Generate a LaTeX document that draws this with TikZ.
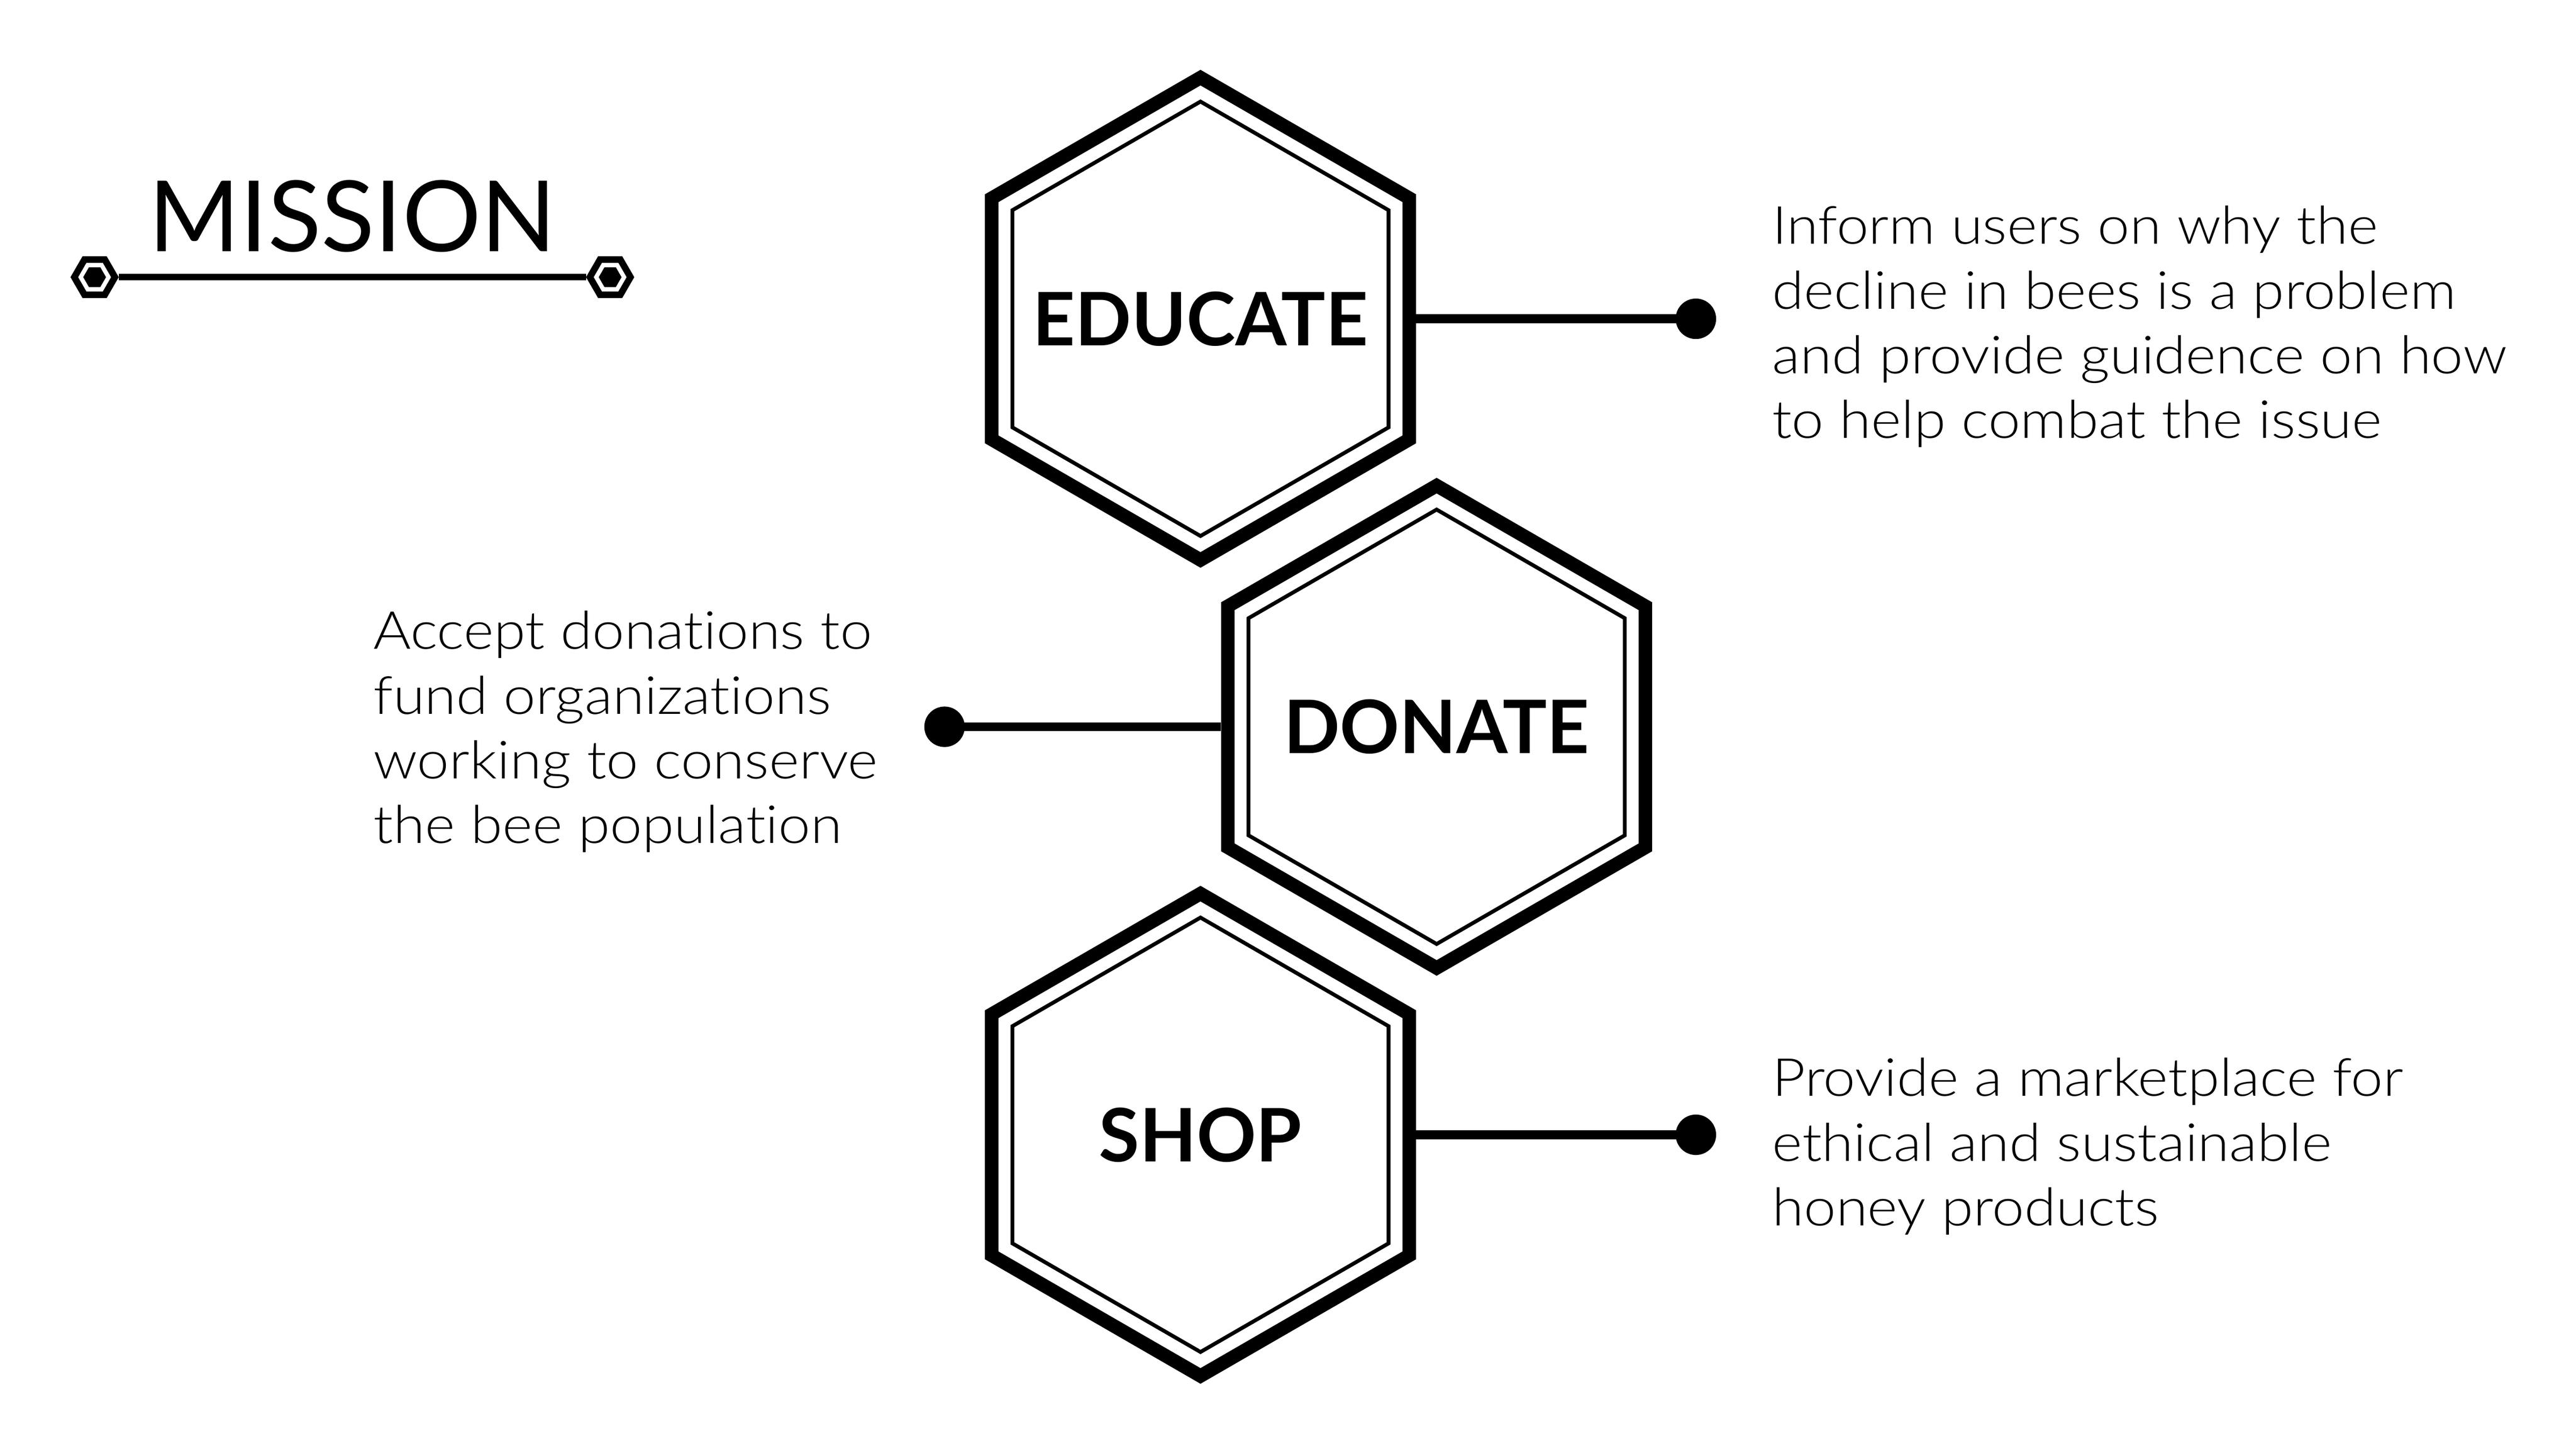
\documentclass[tikz,border=0pt]{standalone}
\usepackage{fontspec}
\usetikzlibrary{shapes.geometric}
\newfontfamily\bodyfont{Lato Light}[FakeStretch=1.097, Ligatures=NoCommon]
\newfontfamily\latofont{Lato}
\newcommand\tibreak{t\kern0pt i}
\tikzset{
  hexout/.style={draw, line width=8.2pt, regular polygon, regular polygon sides=6,
    shape border rotate=90, minimum size=292pt, inner sep=0pt},
  hexin/.style={draw, line width=2.3pt, regular polygon, regular polygon sides=6,
    shape border rotate=90, minimum size=263pt, inner sep=0pt},
  hexlabel/.style={font=\latofont\bfseries\fontsize{44.7}{50}\selectfont, inner sep=0pt},
  bodytext/.style={font=\bodyfont\fontsize{31.8}{39.2}\selectfont, inner sep=0pt, anchor=base west},
  dotnode/.style={circle, fill=black, inner sep=0pt, minimum size=24.5pt},
  conn/.style={line width=5.5pt},
  decout/.style={draw, line width=4pt, regular polygon, regular polygon sides=6,
    minimum size=24.6pt, inner sep=0pt},
  decin/.style={fill=black, regular polygon, regular polygon sides=6,
    minimum size=13.8pt, inner sep=0pt},
}
\begin{document}
\begin{tikzpicture}[x=1pt,y=-1pt]
\useasboundingbox (0,0) rectangle (1560,879.4);
% title
\node[font=\latofont\fontsize{59.6}{60}\selectfont, inner sep=0pt, anchor=base] (title) at (213.5,152.1) {MISSION};
\node[decout] (decL) at (57.3,167.8) {};
\node[decin] (decLin) at (57.3,167.8) {};
\node[decout] (decR) at (369.5,167.8) {};
\node[decin] (decRin) at (369.5,167.8) {};
\draw[line width=4pt] (decL.east) -- (decR.west);
% hexagons
\node[hexout] (educate) at (727,193) {};
\node[hexin] (educateIn) at (727,193) {};
\node[hexlabel] (educateTxt) at (727,193) {EDUCATE};
\node[hexout] (donate) at (870,440) {};
\node[hexin] (donateIn) at (870,440) {};
\node[hexlabel] (donateTxt) at (870,440) {DONATE};
\node[hexout] (shop) at (727,687) {};
\node[hexin] (shopIn) at (727,687) {};
\node[hexlabel] (shopTxt) at (727,687) {SHOP};
% dots and connectors
\node[dotnode] (educateDot) at (1027,193) {};
\node[dotnode] (donateDot) at (572,440) {};
\node[dotnode] (shopDot) at (1027,687) {};
\draw[conn] (educate.east) -- (educateDot.center);
\draw[conn] (donate.west) -- (donateDot.center);
\draw[conn] (shop.east) -- (shopDot.center);
% texts
\node[bodytext] (educateDesc) at (1073,147.8) {\vtop{\hbox{Inform users on why the}\hbox{decline in bees is a problem}\hbox{and provide guidence on how}\hbox{to help combat the issue}}};
\node[bodytext] (donateDesc) at (226,393) {\vtop{\hbox{Accept dona\tibreak ons to}\hbox{fund organiza\tibreak ons}\hbox{working to conserve}\hbox{the bee popula\tibreak on}}};
\node[bodytext] (shopDesc) at (1073,663.7) {\vtop{\hbox{Provide a marketplace for}\hbox{ethical and sustainable}\hbox{honey products}}};
\end{tikzpicture}
\end{document}
